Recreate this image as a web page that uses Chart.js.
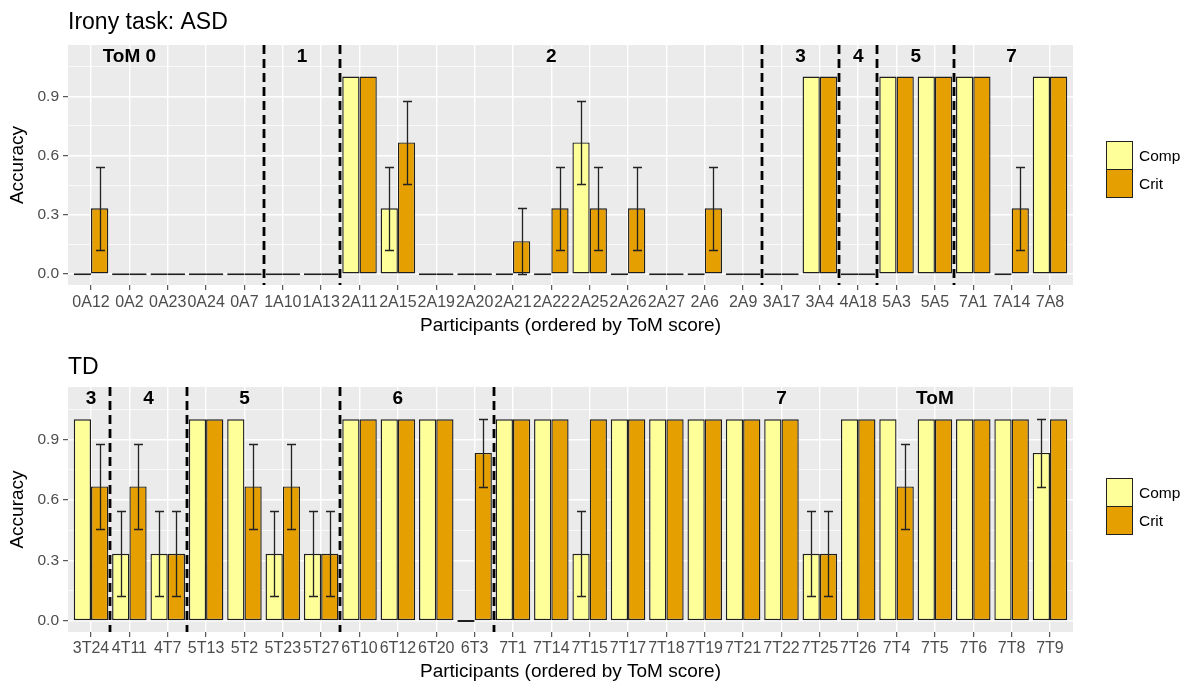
<!DOCTYPE html>
<html>
<head>
<meta charset="utf-8">
<script src="https://cdn.jsdelivr.net/npm/chart.js@4.4.1/dist/chart.umd.min.js"></script>
<style>
  body { margin: 0; background: #fff; font-family: "Liberation Sans", Arial, sans-serif; }
  #wrap { position: relative; width: 1191px; height: 684px; }
  canvas { position: absolute; left: 0; }
  .legend { position: absolute; left: 1106px; font-size: 15.5px; color: #000; }
  .key { display: flex; align-items: center; height: 29px; }
  .key + .key { margin-top: -1px; }
  .box { width: 25px; height: 27px; border: 1px solid #222; margin-right: 6px; }
</style>
</head>
<body>
<div id="wrap">
  <canvas id="chart-asd" width="1191" height="342" style="top:0"></canvas>
  <canvas id="chart-td" width="1191" height="342" style="top:342px"></canvas>
  <div class="legend" style="top:141px">
    <div class="key"><div class="box" style="background:#FFFF99"></div>Comp</div>
    <div class="key"><div class="box" style="background:#E69F00"></div>Crit</div>
  </div>
  <div class="legend" style="top:478px">
    <div class="key"><div class="box" style="background:#FFFF99"></div>Comp</div>
    <div class="key"><div class="box" style="background:#E69F00"></div>Crit</div>
  </div>
</div>
<script>
// ---------- dados: ASD ----------
const asdParticipants = ['0A12','0A2','0A23','0A24','0A7','1A10','1A13','2A11','2A15','2A19','2A20','2A21','2A22',
  '2A25','2A26','2A27','2A6','2A9','3A17','3A4','4A18','5A3','5A5','7A1','7A14','7A8'];
const asdComp   = [0,0,0,0,0,0,0,1,0.333,0,0,0,0,0.667,0,0,0,0,0,1,0,1,1,1,0,1];
const asdCrit   = [0.333,0,0,0,0,0,0,1,0.667,0,0,0.167,0.333,0.333,0.333,0,0.333,0,0,1,0,1,1,1,0.333,1];
const asdCompSE = [0,0,0,0,0,0,0,0,0.21,0,0,0,0,0.21,0,0,0,0,0,0,0,0,0,0,0,0];
const asdCritSE = [0.21,0,0,0,0,0,0,0,0.21,0,0,0.167,0.21,0.21,0.21,0,0.21,0,0,0,0,0,0,0,0.21,0];
const asdGroupText = ['ToM 0','1','2','3','4','5','7'];
const asdGroupPos  = [1, 5.5, 12, 18.5, 20, 21.5, 24];
const asdDividers  = [4.5, 6.5, 17.5, 19.5, 20.5, 22.5];

// ---------- dados: TD ----------
const tdParticipants = ['3T24','4T11','4T7','5T13','5T2','5T23','5T27','6T10','6T12','6T20','6T3','7T1','7T14',
  '7T15','7T17','7T18','7T19','7T21','7T22','7T25','7T26','7T4','7T5','7T6','7T8','7T9'];
const tdComp   = [1,0.333,0.333,1,1,0.333,0.333,1,1,1,0,1,1,0.333,1,1,1,1,1,0.333,1,1,1,1,1,0.833];
const tdCrit   = [0.667,0.667,0.333,1,0.667,0.667,0.333,1,1,1,0.833,1,1,1,1,1,1,1,1,0.333,1,0.667,1,1,1,1];
const tdCompSE = [0,0.21,0.21,0,0,0.21,0.21,0,0,0,0,0,0,0.21,0,0,0,0,0,0.21,0,0,0,0,0,0.167];
const tdCritSE = [0.21,0.21,0.21,0,0.21,0.21,0.21,0,0,0,0.167,0,0,0,0,0,0,0,0,0.21,0,0.21,0,0,0,0];
const tdGroupText = ['3','4','5','6','7','ToM'];
const tdGroupPos  = [0, 1.5, 4, 8, 18, 22];
const tdDividers  = [0.5, 2.5, 6.5, 10.5];

// eixo y
const yMajor = [0, 0.3, 0.6, 0.9];
const yMinor = [0.15, 0.45, 0.75, 1.05];
const LABEL_Y = 1.1;

const FONT = '"Liberation Sans", Arial, sans-serif';
Chart.defaults.font.family = FONT;

const COMP_COLOR = '#FFFF99';
const CRIT_COLOR = '#E69F00';

// fundo cinza, titulo, barras de erro, linhas tracejadas e rotulos de grupo
const panelPlugin = {
  id: 'panel',
  beforeDraw(chart, args, o) {
    const { ctx, chartArea: a } = chart;
    ctx.save();
    ctx.fillStyle = '#EBEBEB';
    ctx.fillRect(a.left, a.top, a.right - a.left, a.bottom - a.top);
    ctx.fillStyle = '#000';
    ctx.font = '23px ' + FONT;
    ctx.textAlign = 'left';
    ctx.textBaseline = 'middle';
    ctx.fillText(o.title, a.left, o.titleY);
    ctx.restore();
  },
  afterDatasetsDraw(chart, args, o) {
    const { ctx, chartArea: a, scales: { x, y } } = chart;
    ctx.save();

    // barras de erro
    ctx.strokeStyle = '#222';
    ctx.lineWidth = 1.3;
    o.se.forEach((seArr, d) => {
      const meta = chart.getDatasetMeta(d);
      const vals = chart.data.datasets[d].data;
      seArr.forEach((se, i) => {
        if (!se) return;
        const v = vals[i].y;
        const bx = Math.round(meta.data[i].x) + 0.5;
        const yLo = Math.round(y.getPixelForValue(Math.max(0, v - se))) + 0.5;
        const yHi = Math.round(y.getPixelForValue(v + se)) + 0.5;
        ctx.beginPath();
        ctx.moveTo(bx, yLo); ctx.lineTo(bx, yHi);
        ctx.moveTo(bx - 4.5, yLo); ctx.lineTo(bx + 4.5, yLo);
        ctx.moveTo(bx - 4.5, yHi); ctx.lineTo(bx + 4.5, yHi);
        ctx.stroke();
      });
    });

    // linhas tracejadas
    ctx.strokeStyle = '#000';
    ctx.lineWidth = 2.8;
    ctx.setLineDash([9, 5]);
    o.dividers.forEach(p => {
      const px = Math.round(x.getPixelForValue(p));
      ctx.beginPath();
      ctx.moveTo(px, a.top);
      ctx.lineTo(px, a.bottom);
      ctx.stroke();
    });
    ctx.setLineDash([]);

    // rotulos de grupo
    ctx.fillStyle = '#000';
    ctx.font = 'bold 19px ' + FONT;
    ctx.textAlign = 'center';
    ctx.textBaseline = 'middle';
    o.groupText.forEach((t, i) => {
      ctx.fillText(t, x.getPixelForValue(o.groupPos[i]), y.getPixelForValue(LABEL_Y));
    });
    ctx.restore();
  }
};

const isMajor = v => yMajor.some(m => Math.abs(m - v) < 1e-6);

function makePanel(id, cfg) {
  const toPts = arr => arr.map((v, i) => ({ x: i, y: v }));
  return new Chart(document.getElementById(id), {
    type: 'bar',
    data: {
      datasets: [
        { label: 'Comp', data: toPts(cfg.comp), backgroundColor: COMP_COLOR },
        { label: 'Crit', data: toPts(cfg.crit), backgroundColor: CRIT_COLOR }
      ]
    },
    options: {
      responsive: false,
      animation: false,
      events: [],
      datasets: {
        bar: {
          borderColor: '#1f1f1f',
          borderWidth: 1.4,
          borderSkipped: false,
          minBarLength: 2,
          categoryPercentage: 0.9,
          barPercentage: 1
        }
      },
      layout: { padding: { top: 45, right: 118, left: 0, bottom: 0 } },
      plugins: {
        legend: { display: false },
        tooltip: { enabled: false },
        panel: {
          title: cfg.title, titleY: cfg.titleY,
          se: [cfg.compSE, cfg.critSE],
          dividers: cfg.dividers,
          groupText: cfg.groupText, groupPos: cfg.groupPos
        }
      },
      scales: {
        x: {
          type: 'linear',
          offset: false,
          min: -0.6, max: cfg.labels.length - 0.4,
          afterBuildTicks: s => { s.ticks = cfg.labels.map((_, i) => ({ value: i })); },
          afterFit: s => { s.height = cfg.xAxisH; },
          grid: { offset: false, color: '#fff', lineWidth: 1.4, tickLength: 5, tickColor: '#333', tickWidth: 1 },
          border: { display: false },
          ticks: {
            autoSkip: false, maxRotation: 0, minRotation: 0,
            callback: v => cfg.labels[v],
            color: '#4D4D4D', font: { size: 16 }, padding: cfg.tickPad
          },
          title: {
            display: true, text: 'Participants (ordered by ToM score)',
            color: '#000', font: { size: 19 }, padding: { top: 0, bottom: cfg.titlePad }
          }
        },
        y: {
          min: -0.055, max: 1.16,
          afterBuildTicks: s => {
            s.ticks = yMajor.concat(yMinor).sort((a, b) => a - b).map(v => ({ value: v }));
          },
          afterFit: s => { s.width = 68; },
          grid: {
            color: '#fff',
            lineWidth: c => isMajor(c.tick.value) ? 1.4 : 0.7,
            tickLength: 5,
            tickColor: c => isMajor(c.tick.value) ? '#333' : 'rgba(0,0,0,0)',
            tickWidth: 1
          },
          border: { display: false },
          ticks: {
            callback: v => isMajor(v) ? v.toFixed(1) : '',
            color: '#4D4D4D', font: { size: 15.5 }, padding: 4
          },
          title: {
            display: true, text: 'Accuracy', color: '#000',
            font: { size: 19 }, padding: { top: 6.5, bottom: 0 }
          }
        }
      }
    },
    plugins: [panelPlugin]
  });
}

makePanel('chart-asd', {
  title: 'Irony task: ASD', titleY: 23,
  labels: asdParticipants, comp: asdComp, crit: asdCrit,
  compSE: asdCompSE, critSE: asdCritSE,
  groupText: asdGroupText, groupPos: asdGroupPos, dividers: asdDividers,
  xAxisH: 57, tickPad: 2.5, titlePad: 4.5
});

makePanel('chart-td', {
  title: 'TD', titleY: 26,
  labels: tdParticipants, comp: tdComp, crit: tdCrit,
  compSE: tdCompSE, critSE: tdCritSE,
  groupText: tdGroupText, groupPos: tdGroupPos, dividers: tdDividers,
  xAxisH: 52, tickPad: 1.5, titlePad: 0.5
});
</script>
</body>
</html>
